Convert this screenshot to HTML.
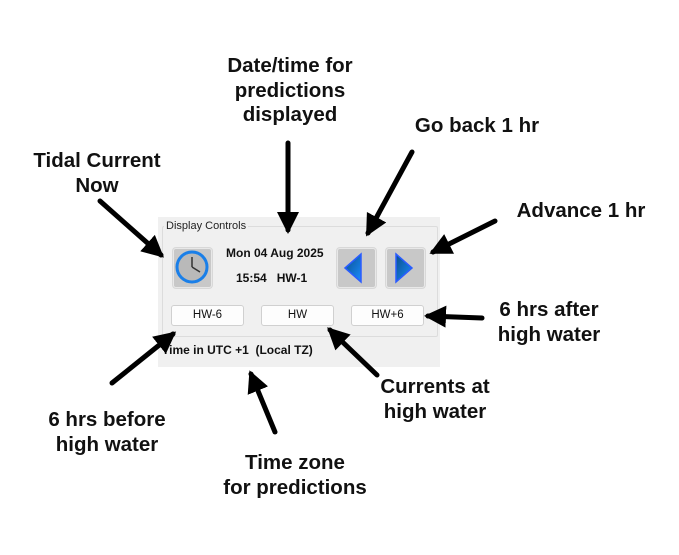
<!DOCTYPE html>
<html><head><style>
body{margin:0;width:679px;height:555px;background:#fff;position:relative;overflow:hidden;font-family:"Liberation Sans",Arial,sans-serif}
.t{position:absolute;font-weight:bold;font-size:20.5px;color:#111;text-align:center;line-height:24.5px;transform:translateX(-50%);white-space:nowrap}
.panel{position:absolute;left:158px;top:217px;width:282px;height:150px;background:#f0f0f0}
.grp{position:absolute;left:162px;top:226px;width:274px;height:109px;border:1px solid #dcdcdc;border-radius:2px}
.lbl{position:absolute;left:164px;top:220px;font-size:11px;color:#222;background:#f0f0f0;padding:0 2px}
.ib{position:absolute;width:37px;height:38px;background:#c8c8c8;border:1px solid #e8e8e8;border-radius:3px;box-shadow:0 0 0 1px #d8d8d8}
.b{position:absolute;top:305px;width:71px;height:19px;background:#fdfdfd;border:1px solid #d0d0d0;border-radius:3px;font-size:11.5px;text-align:center;line-height:19px;color:#111}
.s{position:absolute;font-size:12px;font-weight:bold;color:#111}
</style></head><body>
<div class="panel"></div>
<div class="grp"></div>
<div class="lbl">Display Controls</div>
<div class="ib" style="left:173px;top:248px"></div>
<svg style="position:absolute;left:173px;top:248px" width="38" height="38"><circle cx="19" cy="19" r="15" fill="#b9b9b9" stroke="#1a7fe8" stroke-width="3"/><line x1="19" y1="19" x2="19" y2="9" stroke="#333" stroke-width="1.5"/><line x1="19" y1="19" x2="27" y2="24" stroke="#333" stroke-width="1.5"/></svg>
<div class="s" style="left:226px;top:246px">Mon 04 Aug 2025</div>
<div class="s" style="left:236px;top:271px">15:54&nbsp;&nbsp;&nbsp;HW-1</div>
<div class="ib" style="left:337px;top:248px"></div>
<div class="ib" style="left:386px;top:248px"></div>
<svg style="position:absolute;left:337px;top:248px" width="100" height="40"><defs><linearGradient id="g" x1="0" y1="0" x2="1" y2="1"><stop offset="0" stop-color="#0a4f8a"/><stop offset="1" stop-color="#1a8cff"/></linearGradient></defs><polygon points="8,20 24,6 24,34" fill="url(#g)" stroke="#2a5cff" stroke-width="1.5"/><polygon points="59,6 75,20 59,34" fill="url(#g)" stroke="#2a5cff" stroke-width="1.5"/></svg>
<div class="b" style="left:171px">HW-6</div>
<div class="b" style="left:261px">HW</div>
<div class="b" style="left:351px">HW+6</div>
<div class="s" style="left:162px;top:343px">Time in UTC +1&nbsp;&nbsp;(Local TZ)</div>

<div class="t" style="left:97px;top:149px">Tidal Current<br>Now</div>
<div class="t" style="left:290px;top:54px">Date/time for<br>predictions<br>displayed</div>
<div class="t" style="left:477px;top:114px">Go back 1 hr</div>
<div class="t" style="left:581px;top:199px">Advance 1 hr</div>
<div class="t" style="left:549px;top:298px">6 hrs after<br>high water</div>
<div class="t" style="left:435px;top:375px">Currents at<br>high water</div>
<div class="t" style="left:107px;top:408px">6 hrs before<br>high water</div>
<div class="t" style="left:295px;top:451px">Time zone<br>for predictions</div>

<svg style="position:absolute;left:0;top:0" width="679" height="555">
<defs><marker id="a" markerWidth="4.4" markerHeight="4.4" refX="3.6" refY="2.2" orient="auto"><polygon points="0,0 4.4,2.2 0,4.4" fill="#000"/></marker></defs>
<g stroke="#000" stroke-width="5" stroke-linecap="round" marker-end="url(#a)">
<line x1="100" y1="201" x2="161" y2="255"/>
<line x1="288" y1="143" x2="288" y2="230"/>
<line x1="412" y1="152" x2="368" y2="233"/>
<line x1="495" y1="221" x2="433" y2="252"/>
<line x1="482" y1="318" x2="428" y2="316"/>
<line x1="377" y1="375" x2="330" y2="330"/>
<line x1="275" y1="432" x2="251" y2="374"/>
<line x1="112" y1="383" x2="173" y2="334"/>
</g></svg>
</body></html>
